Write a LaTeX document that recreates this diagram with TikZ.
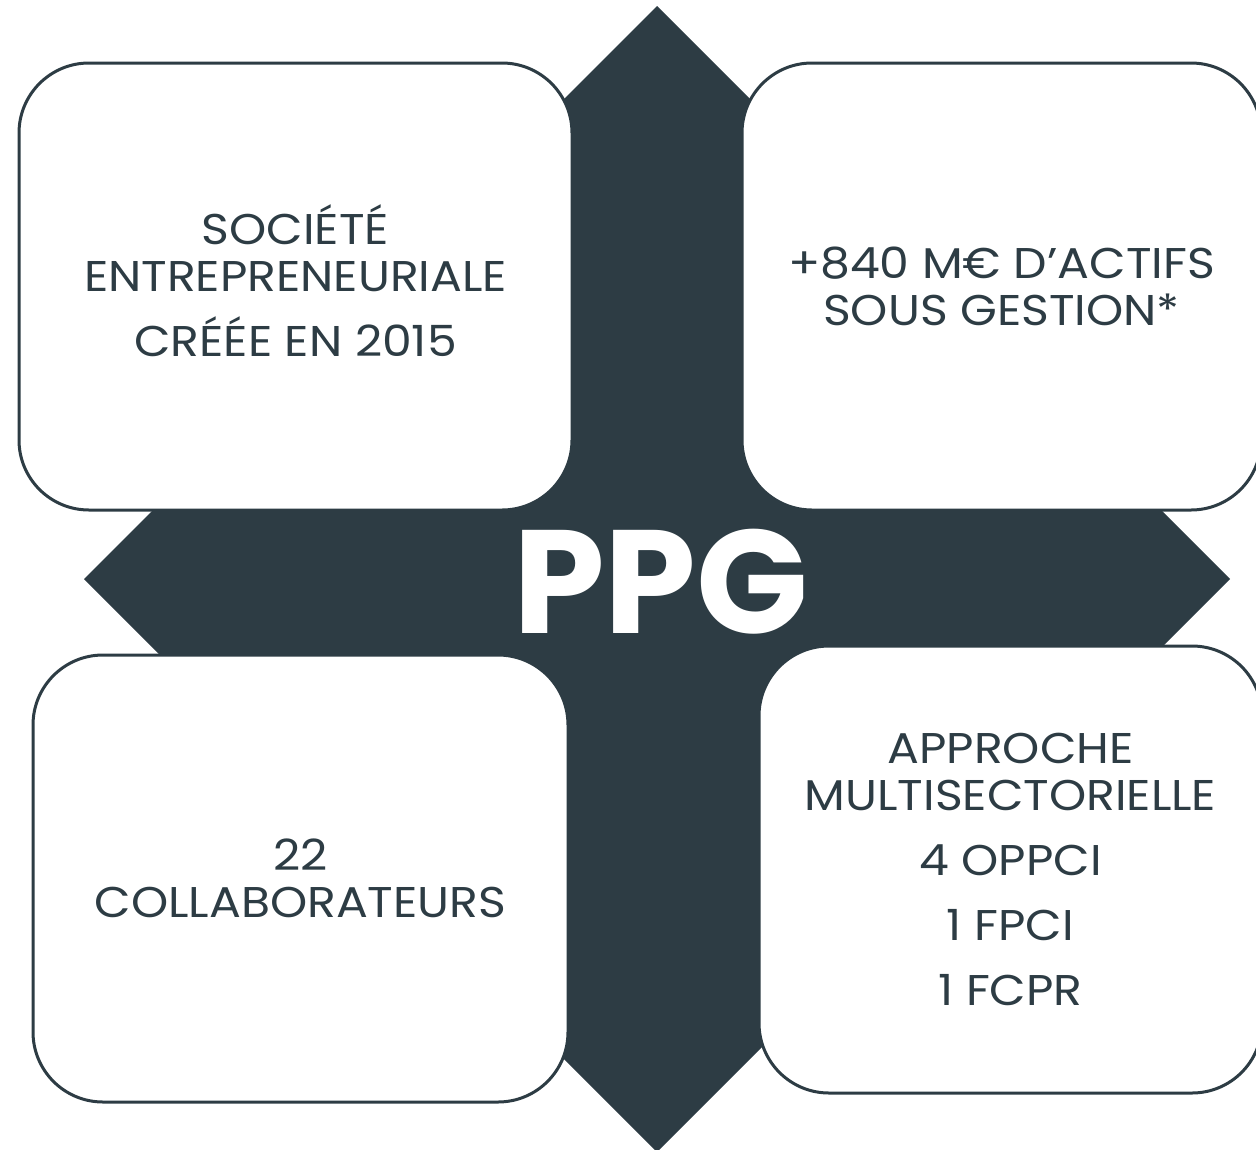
\documentclass[tikz,border=0pt]{standalone}
\usepackage{fontspec}
\setmainfont{Poppins}
\newfontfamily\cardfont{Poppins}[FakeStretch=1.1]
\usepackage{tikz}
\usetikzlibrary{positioning}
\definecolor{slate}{RGB}{45,60,68}
\tikzstyle{card} = [draw=slate, line width=3pt, fill=white, rounded corners=70pt, inner sep=0pt, minimum height=447pt, align=center, text=slate, font=\cardfont\fontsize{43}{47}\selectfont]
\tikzstyle{logo} = [text=white, inner sep=0pt, font=\fontsize{147}{147}\selectfont\bfseries]

\begin{document}
\begin{tikzpicture}[x=1pt,y=-1pt]
		\useasboundingbox (0,0) rectangle (1256,1149);
		\clip (0,0) rectangle (1256,1149);
		\fill[slate] (657,6) -- (1230,579) -- (657,1152) -- (84,579) -- cycle;

		\node[card, minimum width=553pt] (creation) at (295.5,286.5) {SOCIÉTÉ\\ENTREPRENEURIALE\\[18pt]CRÉÉE EN 2015\rule[-12pt]{0pt}{12pt}};
		\node[card, minimum width=519pt] (actifs) at (1001.5,286.5) {+840 M€ D’ACTIFS\\SOUS GESTION*};
		\node[card, minimum width=535pt] (equipe) at (300.5,878.5) {22\\COLLABORATEURS};
		\node[card, minimum width=503pt] (fonds) at (1010.5,869.5) {APPROCHE\\MULTISECTORIELLE\\[18pt]4 OPPCI\\[18pt]1 FPCI\\[18pt]1 FCPR};

		\node[logo] (ppg) at (661,582) {PPG};
	\end{tikzpicture}
\end{document}
